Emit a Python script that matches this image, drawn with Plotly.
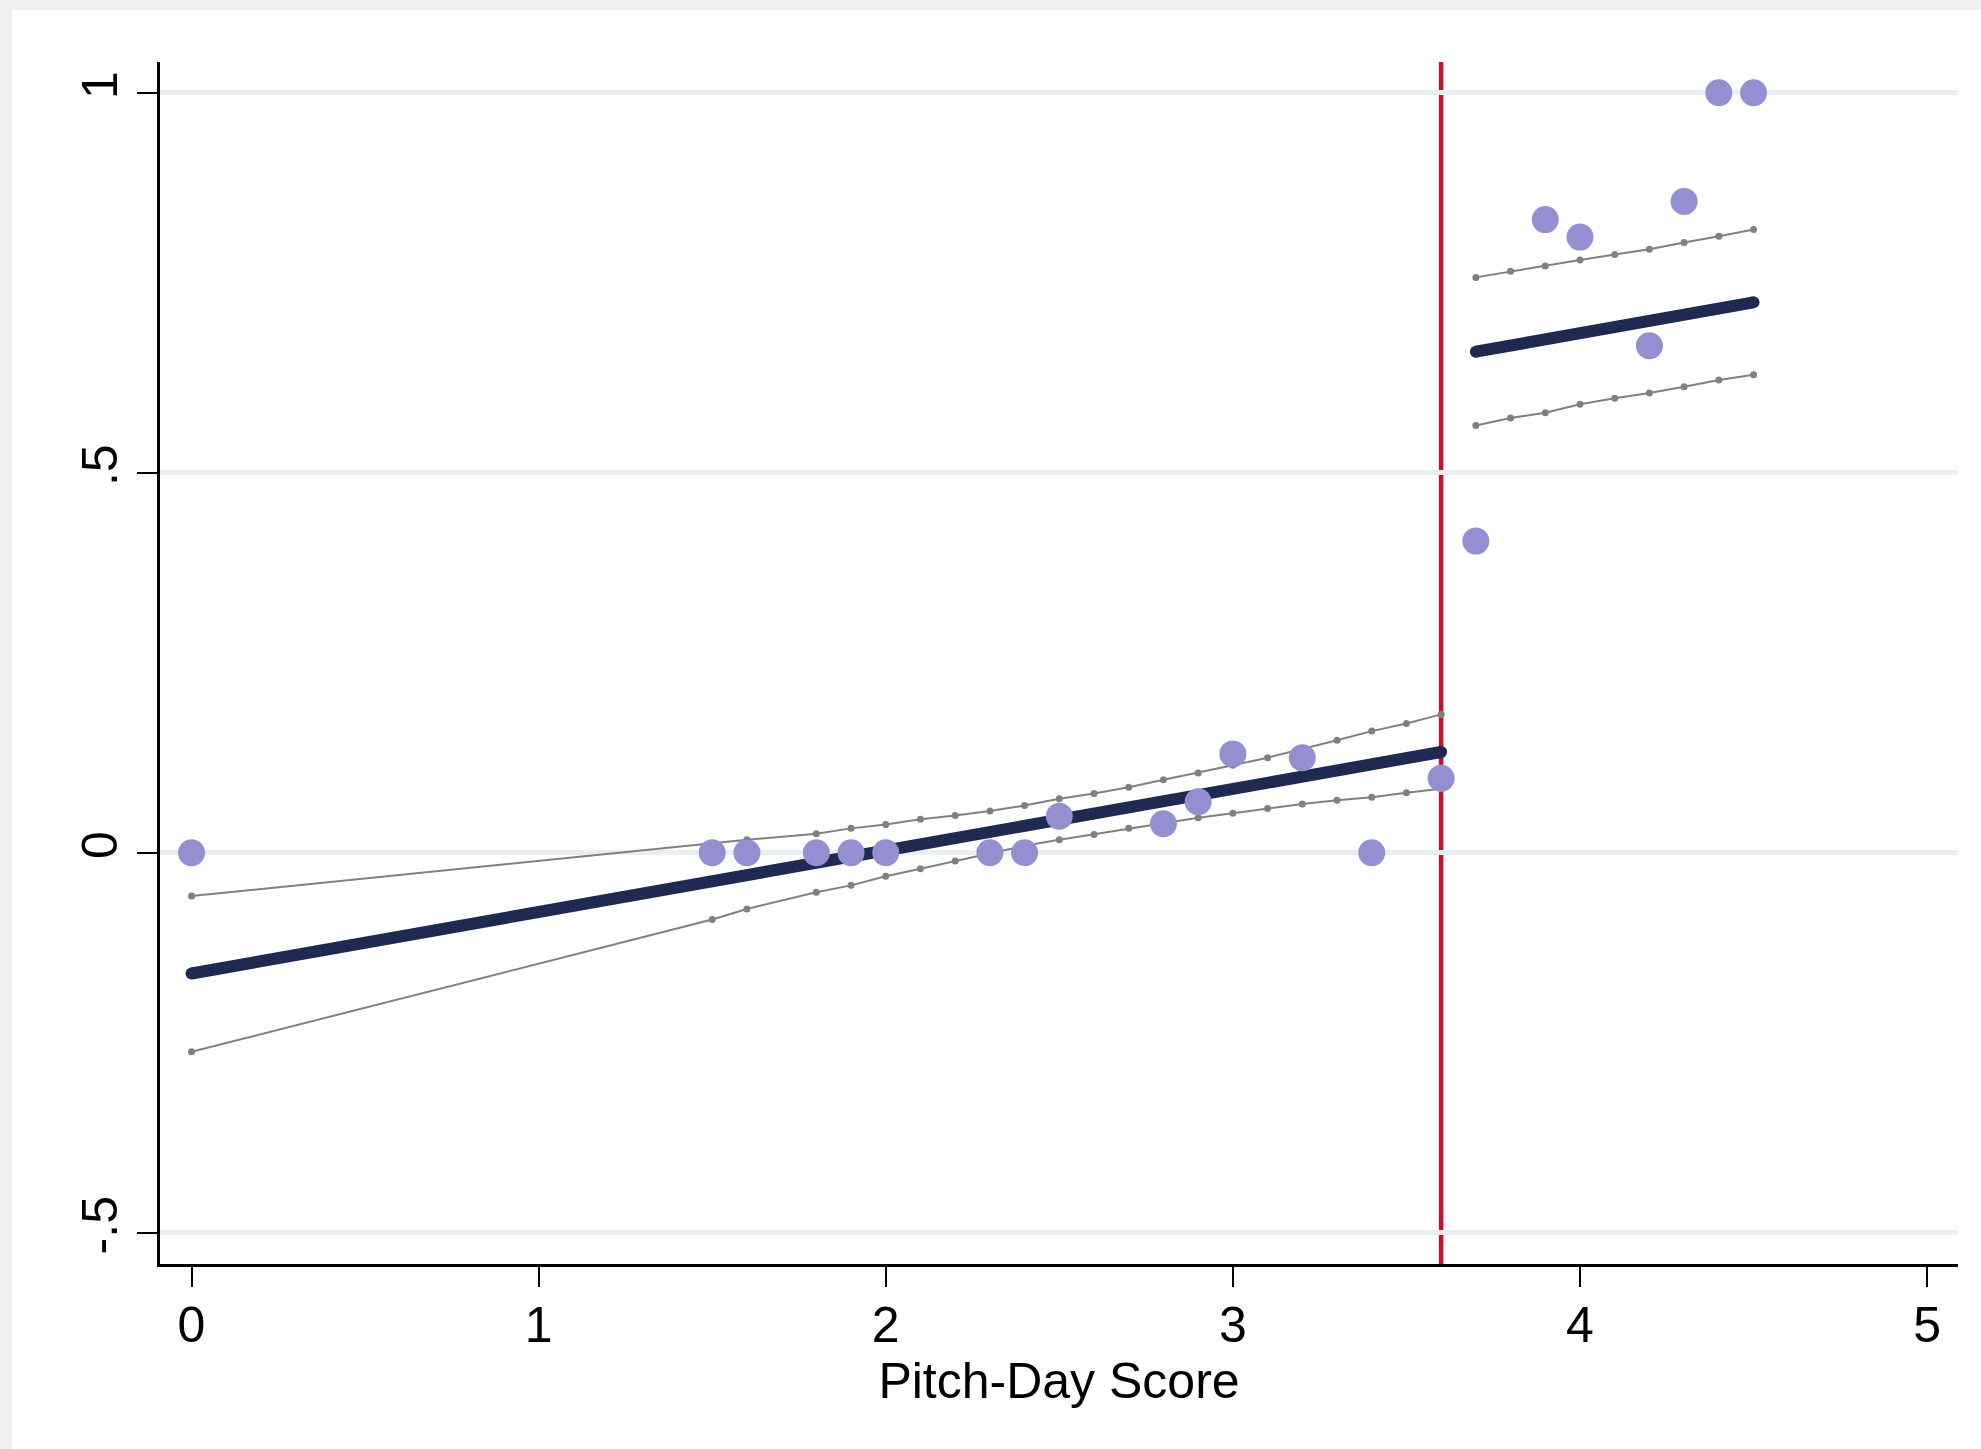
import plotly.graph_objects as go

# Binned outcome means by pitch-day score
score_bins = [0, 1.5, 1.6, 1.8, 1.9, 2.0, 2.3, 2.4, 2.5, 2.8, 2.9, 3.0, 3.2, 3.4, 3.6,
              3.7, 3.9, 4.0, 4.2, 4.3, 4.4, 4.5]
bin_means = [0, 0, 0, 0, 0, 0, 0, 0, 0.048, 0.038, 0.067, 0.130, 0.125, 0, 0.098,
             0.410, 0.833, 0.810, 0.667, 0.857, 1.0, 1.0]

# Cutoff
cutoff = 3.6

# Linear fit below the cutoff, with 95% CI
fit_x_left = [0, 3.6]
fit_y_left = [-0.159, 0.1325]
ci_x_left = [0, 1.5, 1.6, 1.8, 1.9, 2.0, 2.1, 2.2, 2.3, 2.4, 2.5, 2.6, 2.7, 2.8, 2.9,
             3.0, 3.1, 3.2, 3.3, 3.4, 3.5, 3.6]
ci_hi_left = [-0.057, 0.012, 0.017, 0.025, 0.032, 0.037, 0.044, 0.049, 0.055, 0.062,
              0.071, 0.078, 0.086, 0.096, 0.105, 0.115, 0.125, 0.136, 0.148, 0.160,
              0.170, 0.182]
ci_lo_left = [-0.262, -0.088, -0.074, -0.052, -0.043, -0.031, -0.021, -0.011, 0.000,
              0.009, 0.017, 0.024, 0.032, 0.039, 0.046, 0.052, 0.058, 0.064, 0.069,
              0.073, 0.079, 0.084]

# Linear fit above the cutoff, with 95% CI
fit_x_right = [3.7, 4.5]
fit_y_right = [0.6592, 0.7242]
ci_x_right = [3.7, 3.8, 3.9, 4.0, 4.1, 4.2, 4.3, 4.4, 4.5]
ci_hi_right = [0.757, 0.765, 0.772, 0.780, 0.787, 0.794, 0.803, 0.811, 0.820]
ci_lo_right = [0.562, 0.572, 0.579, 0.590, 0.598, 0.605, 0.613, 0.622, 0.629]

# Axis ticks
x_ticks = [0, 1, 2, 3, 4, 5]
y_ticks = [-0.5, 0, 0.5, 1]
y_tick_text = ["-.5", "0", ".5", "1"]

NAVY = "#1F2A52"
LAVENDER = "#938FD0"
GREY = "#808080"
RED = "#C8102E"
FONT = "Liberation Sans, Arial, sans-serif"

fig = go.Figure()

# Confidence bands
for xs, ys in [(ci_x_left, ci_hi_left), (ci_x_left, ci_lo_left),
               (ci_x_right, ci_hi_right), (ci_x_right, ci_lo_right)]:
    fig.add_trace(go.Scatter(
        x=xs, y=ys, mode="lines+markers",
        line=dict(color=GREY, width=2),
        marker=dict(color=GREY, size=7),
        hoverinfo="skip", showlegend=False,
    ))

# Fitted lines
for xs, ys in [(fit_x_left, fit_y_left), (fit_x_right, fit_y_right)]:
    fig.add_trace(go.Scatter(
        x=xs, y=ys, mode="lines+markers",
        line=dict(color=NAVY, width=12),
        marker=dict(color=NAVY, size=12),
        showlegend=False,
    ))

# Binned means
fig.add_trace(go.Scatter(
    x=score_bins, y=bin_means, mode="markers",
    marker=dict(color=LAVENDER, size=27, line=dict(width=0)),
    showlegend=False,
))

W, H = 1981, 1449
ML, MR, MT, MB = 160, 23, 62, 185
PW, PH = W - ML - MR, H - MT - MB


def px_x(p):
    return (p - ML) / PW


def px_y(p):
    return (H - MB - p) / PH


STRIP = "#EFF0F2"
shapes = [
    # cutoff line
    dict(type="line", xref="x", yref="paper", x0=cutoff, x1=cutoff, y0=0, y1=1,
         line=dict(color=RED, width=4.5), layer="between"),
    # frame strips along top and left edge
    dict(type="rect", xref="paper", yref="paper", x0=px_x(0), x1=px_x(W),
         y0=px_y(10), y1=px_y(0), fillcolor=STRIP, line=dict(width=0), layer="below"),
    dict(type="rect", xref="paper", yref="paper", x0=px_x(0), x1=px_x(12),
         y0=px_y(H), y1=px_y(0), fillcolor=STRIP, line=dict(width=0), layer="below"),
]

fig.update_layout(
    width=W, height=H, autosize=False,
    margin=dict(l=ML, r=MR, t=MT, b=MB, pad=0),
    paper_bgcolor="white", plot_bgcolor="white",
    font=dict(family=FONT, color="black", size=50),
    shapes=shapes,
    xaxis=dict(
        range=[-0.0908, 5.089], tickvals=x_ticks,
        ticks="outside", ticklen=20, tickwidth=2, tickcolor="black",
        ticklabelstandoff=-5,
        showline=True, linecolor="black", linewidth=2.5,
        showgrid=False, zeroline=False,
        tickfont=dict(size=50),
        title=dict(text="Pitch-Day Score", font=dict(size=50), standoff=0),
    ),
    yaxis=dict(
        range=[-0.5412, 1.0404], tickvals=y_ticks, ticktext=y_tick_text,
        tickangle=-90,
        ticks="outside", ticklen=20, tickwidth=2, tickcolor="black",
        showline=True, linecolor="black", linewidth=2.5,
        showgrid=True, gridcolor="#E8F0F1", gridwidth=4.5, zeroline=False,
        tickfont=dict(size=50),
    ),
)

fig.write_html("out.html")
